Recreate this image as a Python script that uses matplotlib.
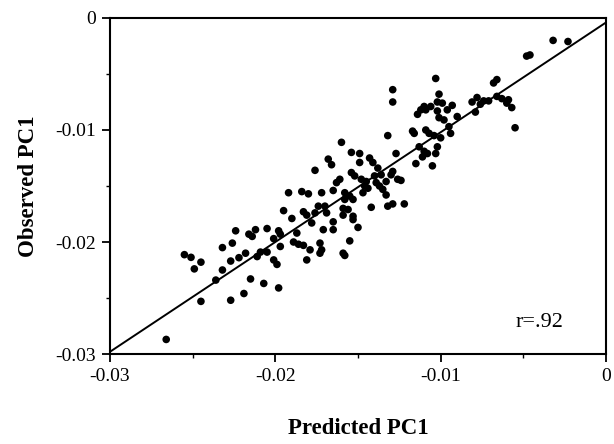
import matplotlib
matplotlib.use("Agg")
import matplotlib.pyplot as plt
from matplotlib.ticker import MultipleLocator

predicted = [-0.0266, -0.0255, -0.0251, -0.0249, -0.0245, -0.0245, -0.0236, -0.0232, -0.0232, -0.0226,
             -0.0224, -0.0227, -0.0227, -0.0222, -0.0219, -0.0218, -0.0216, -0.0214, -0.0215, -0.0212,
             -0.0211, -0.0209, -0.0207, -0.0205, -0.0205, -0.0201, -0.0201, -0.0199, -0.0198, -0.0198,
             -0.0197, -0.0197, -0.0195, -0.0192, -0.0190, -0.0189, -0.0187, -0.0186, -0.0184, -0.0183,
             -0.0183, -0.0181, -0.0181, -0.0180, -0.0179, -0.0178, -0.0176, -0.0176, -0.0174, -0.0173,
             -0.0173, -0.0172, -0.0172, -0.0171, -0.0170, -0.0169, -0.0168, -0.0166, -0.0165, -0.0165,
             -0.0165, -0.0163, -0.0161, -0.0160, -0.0159, -0.0159, -0.0159, -0.0158, -0.0158, -0.0158,
             -0.0156, -0.0155, -0.0155, -0.0154, -0.0154, -0.0153, -0.0153, -0.0153, -0.0152, -0.0150,
             -0.0149, -0.0149, -0.0148, -0.0147, -0.0146, -0.0145, -0.0144, -0.0143, -0.0142, -0.0141,
             -0.0140, -0.0139, -0.0138, -0.0137, -0.0136, -0.0135, -0.0133, -0.0133, -0.0132, -0.0132,
             -0.0130, -0.0129, -0.0129, -0.0129, -0.0129, -0.0127, -0.0126, -0.0124, -0.0122, -0.0117,
             -0.0116, -0.0115, -0.0114, -0.0113, -0.0112, -0.0111, -0.0110, -0.0110, -0.0109, -0.0109,
             -0.0108, -0.0107, -0.0106, -0.0105, -0.0104, -0.0103, -0.0103, -0.0102, -0.0102, -0.0102,
             -0.0101, -0.0101, -0.0100, -0.0099, -0.0098, -0.0096, -0.0095, -0.0094, -0.0093, -0.0090,
             -0.0079, -0.0081, -0.0078, -0.0076, -0.0074, -0.0071, -0.0068, -0.0066, -0.0066, -0.0063,
             -0.0060, -0.0059, -0.0057, -0.0055, -0.0048, -0.0046, -0.0032, -0.0023]
observed = [-0.0287, -0.02113, -0.02137, -0.0224, -0.0218, -0.0253, -0.0234, -0.0225, -0.0205, -0.0201,
            -0.0190, -0.0217, -0.0252, -0.0214, -0.0246, -0.0210, -0.0193, -0.0195, -0.0233, -0.0189,
            -0.0213, -0.0209, -0.0237, -0.0188, -0.0209, -0.0197, -0.0216, -0.0220, -0.0241, -0.0190,
            -0.0204, -0.0193, -0.0172, -0.0156, -0.0179, -0.0200, -0.0192, -0.0202, -0.0155, -0.0173,
            -0.0203, -0.0216, -0.0176, -0.0157, -0.0207, -0.0183, -0.0174, -0.0136, -0.0168, -0.0201,
            -0.0210, -0.0156, -0.0207, -0.0189, -0.0168, -0.0174, -0.0126, -0.0131, -0.0182, -0.0189,
            -0.0154, -0.0147, -0.0144, -0.0111, -0.0170, -0.0176, -0.0210, -0.0212, -0.0156, -0.0162,
            -0.0171, -0.0159, -0.0199, -0.0120, -0.0138, -0.0180, -0.0177, -0.0162, -0.0141, -0.0187,
            -0.0121, -0.0129, -0.0144, -0.0156, -0.0150, -0.0146, -0.0152, -0.0125, -0.0169, -0.0129,
            -0.0141, -0.0147, -0.0134, -0.0150, -0.0140, -0.0153, -0.0158, -0.0146, -0.0168, -0.0105,
            -0.0140, -0.0137, -0.0064, -0.0075, -0.0166, -0.0121, -0.0144, -0.0145, -0.0166, -0.0101,
            -0.0103, -0.0130, -0.0086, -0.0115, -0.0082, -0.0124, -0.0119, -0.0079, -0.0100, -0.0082,
            -0.0121, -0.0103, -0.0079, -0.0132, -0.0105, -0.0054, -0.0121, -0.0083, -0.0115, -0.0075,
            -0.0068, -0.0089, -0.0107, -0.0076, -0.0091, -0.0082, -0.0097, -0.0103, -0.0078, -0.0088,
            -0.0084, -0.0075, -0.0071, -0.0077, -0.0074, -0.0074, -0.0058, -0.0055, -0.0070, -0.0072,
            -0.0076, -0.0073, -0.0080, -0.0098, -0.0034, -0.0033, -0.0020, -0.0021]

fit_x = [-0.03, 0.0]
fit_y = [-0.0298, -0.0004]

x_ticks = [-0.03, -0.02, -0.01, 0.0]
x_tick_labels = ["-0.03", "-0.02", "-0.01", "0"]
y_ticks = [-0.03, -0.02, -0.01, 0.0]
y_tick_labels = ["-0.03", "-0.02", "-0.01", "0"]

plt.rcParams['font.family'] = ['Liberation Serif', 'DejaVu Serif']

fig = plt.figure(figsize=(6.14, 4.44), dpi=100)
ax = fig.add_axes([110/614, 1-354/444, (606-110)/614, (354-18)/444])

ax.scatter(predicted, observed, s=30, color='black', edgecolors='none', zorder=3)
ax.plot(fit_x, fit_y, color='black', linewidth=1.4, zorder=2)

ax.set_xlim(-0.03, 0.0)
ax.set_ylim(-0.03, 0.0)
ax.set_xticks(x_ticks)
ax.set_xticklabels(x_tick_labels)
ax.set_yticks(y_ticks)
ax.set_yticklabels(y_tick_labels)
ax.xaxis.set_minor_locator(MultipleLocator(0.005))
ax.yaxis.set_minor_locator(MultipleLocator(0.005))
ax.tick_params(which='major', direction='out', length=6, width=1.3, labelsize=14, pad=4)
ax.tick_params(which='minor', direction='out', length=3, width=1.0)

for sp in ax.spines.values():
    sp.set_linewidth(1.5)

ax.set_xlabel("Predicted PC1", fontsize=16.5, fontweight='bold', labelpad=24)
ax.set_ylabel("Observed PC1", fontsize=16.5, fontweight='bold', labelpad=12)

ax.text(-0.0055, -0.0272, "r=.92", fontsize=16, ha='left', va='center')

fig.savefig("out.png", dpi=100)
